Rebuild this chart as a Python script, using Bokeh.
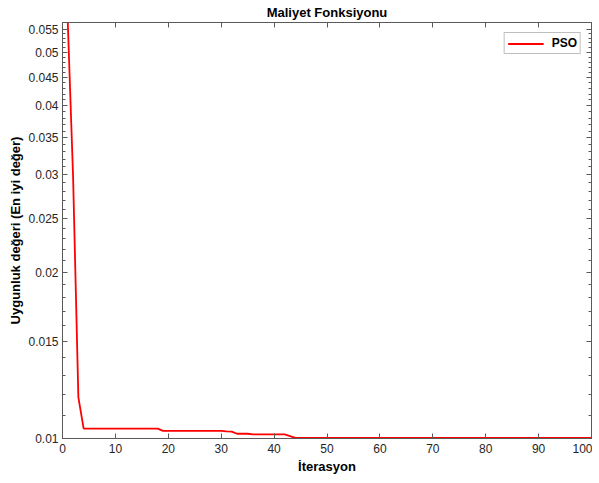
from bokeh.plotting import figure
from bokeh.models import (Range1d, FixedTicker, LogAxis, LinearAxis, Legend,
                          LegendItem, CustomJSTickFormatter)
from bokeh.embed import file_html
from bokeh.resources import INLINE

# ---- data ----
iterations = list(range(1, 101))
best_values = (
    [0.0566, 0.0298, 0.01187]
    + [0.01042] * 15          # 4..18
    + [0.01032] * 12          # 19..30
    + [0.01030, 0.01029]      # 31..32
    + [0.01020] * 3           # 33..35
    + [0.01017] * 7           # 36..42
    + [0.01010]               # 43
    + [0.01003] * 57          # 44..100
)
x_ticks = [0, 10, 20, 30, 40, 50, 60, 70, 80, 90, 100]
y_ticks = [0.01, 0.015, 0.02, 0.025, 0.03, 0.035, 0.04, 0.045, 0.05, 0.055]
y_minor = [round(0.011 + 0.001 * i, 3) for i in range(45)]
y_minor = [v for v in y_minor if all(abs(v - t) > 1e-9 for t in y_ticks)]

series_name = "PSO"
title_text = "Maliyet Fonksiyonu"
x_label = "İterasyon"
y_label = "Uygunluk değeri (En iyi değer)"

FONT = "Liberation Sans"
AX_COLOR = "#5a5a5a"
TXT_COLOR = "#262626"

p = figure(width=592, height=477,
           x_range=Range1d(0, 100),
           y_range=Range1d(0.01, max(best_values)),
           y_axis_type="log",
           output_backend="svg", toolbar_location=None,
           min_border_left=62, min_border_right=1,
           min_border_top=21, min_border_bottom=39)

p.title.text = title_text
p.title.align = "center"
p.title.text_font = FONT
p.title.text_font_size = "13px"
p.title.text_font_style = "bold"
p.title.text_color = "#000000"
p.title.standoff = 5
p.title.offset = 0

p.xgrid.visible = False
p.ygrid.visible = False
p.outline_line_color = AX_COLOR
p.outline_line_width = 1
p.background_fill_color = "white"
p.border_fill_color = "white"

fmt = CustomJSTickFormatter(code="return parseFloat(tick.toPrecision(4)).toString();")
blank = CustomJSTickFormatter(code="return '';")

def style_axis(ax, show_labels=True):
    ax.axis_line_color = AX_COLOR
    ax.major_tick_line_color = AX_COLOR
    ax.minor_tick_line_color = AX_COLOR
    ax.major_tick_in = 5
    ax.major_tick_out = 0
    ax.minor_tick_in = 3
    ax.minor_tick_out = 0
    ax.major_label_text_font = FONT
    ax.major_label_text_color = TXT_COLOR
    ax.major_label_text_font_size = "12px"
    ax.axis_label_text_font = FONT
    ax.axis_label_text_font_style = "bold"
    ax.axis_label_text_font_size = "13px"
    ax.axis_label_text_color = "#000000"
    if not show_labels:
        ax.formatter = blank
        ax.major_label_standoff = 0

# bottom x axis
xa = p.xaxis[0]
xa.ticker = FixedTicker(ticks=x_ticks)
style_axis(xa)
xa.minor_tick_in = 0
xa.axis_label = x_label
xa.major_label_standoff = 5
xa.axis_label_standoff = 3

# left y axis
ya = p.yaxis[0]
ya.ticker = FixedTicker(ticks=y_ticks, minor_ticks=y_minor)
ya.formatter = fmt
style_axis(ya)
ya.axis_label = y_label
ya.major_label_standoff = 4
ya.axis_label_standoff = 2

# mirror axes (box on)
top = LinearAxis(ticker=FixedTicker(ticks=x_ticks))
style_axis(top, show_labels=False)
top.minor_tick_in = 0
p.add_layout(top, "above")

right = LogAxis(ticker=FixedTicker(ticks=y_ticks, minor_ticks=y_minor))
style_axis(right, show_labels=False)
p.add_layout(right, "right")

r = p.line(iterations, best_values, line_color="#ff0000", line_width=1.8)

legend = Legend(items=[LegendItem(label=series_name, renderers=[r])],
                location="top_right")
legend.label_text_font = FONT
legend.label_text_font_style = "bold"
legend.label_text_font_size = "12px"
legend.label_text_color = "#000000"
legend.border_line_color = "#808080"
legend.border_line_width = 1
legend.background_fill_color = "white"
legend.padding = 3
legend.glyph_width = 36
legend.glyph_height = 11
legend.label_height = 11
legend.label_standoff = 8
legend.margin = 10
p.add_layout(legend)

open("out.html", "w").write(file_html(p, INLINE))
